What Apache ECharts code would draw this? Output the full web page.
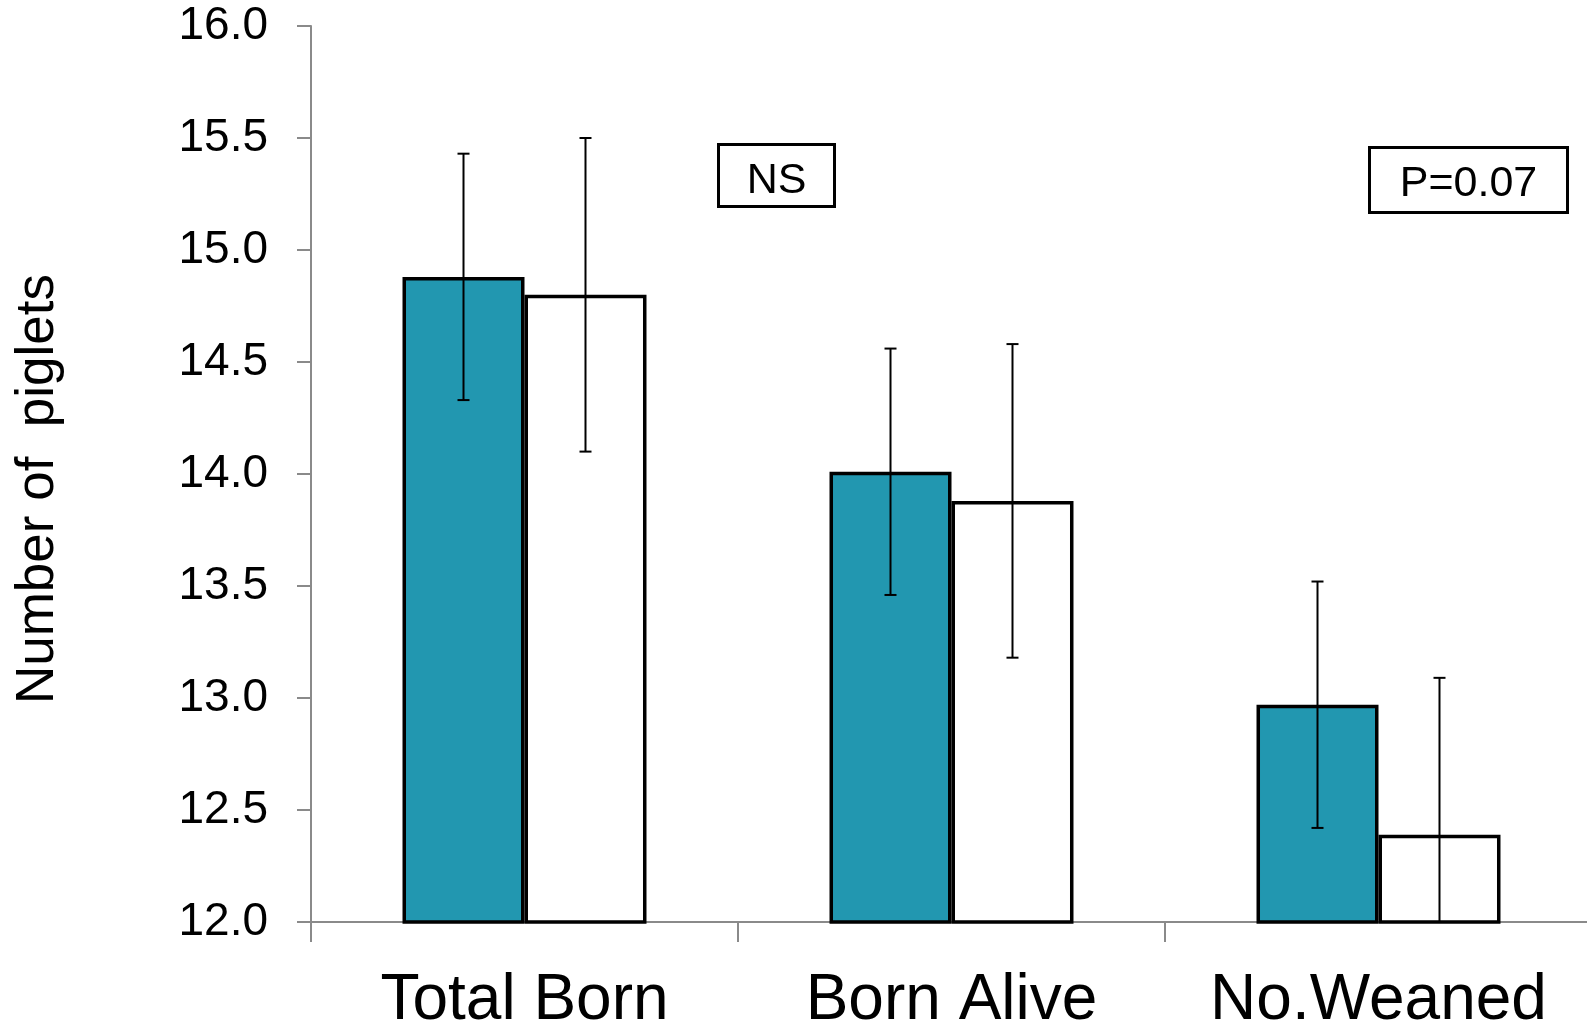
<!DOCTYPE html>
<html>
<head>
<meta charset="utf-8">
<script src="https://cdn.jsdelivr.net/npm/echarts@6/dist/echarts.min.js"></script>
<style>
html,body{margin:0;padding:0;background:#fff;}
#chart{width:1587px;height:1024px;}
</style>
</head>
<body>
<div id="chart"></div>
<script>
// ---- data ----
const categories = ['Total Born', 'Born Alive', 'No.Weaned'];
const groupA = [14.88, 14.01, 12.97];      // teal bars
const groupAErr = [0.55, 0.55, 0.55];
const groupB = [14.80, 13.88, 12.39];      // white bars
const groupBErr = [0.70, 0.70, 0.70];
const yTicks = { min: 12, max: 16, interval: 0.5 };
const yTitle = 'Number of  piglets';
const annotations = ['NS', 'P=0.07'];

const FONT = '"Liberation Sans", Arial, sans-serif';
const BAR_FRAC = 0.2857; // bar width as a fraction of category band

function errSeries(vals, errs, side) {
  return {
    type: 'custom',
    clip: true,
    z: 10,
    data: vals.map((v, i) => [i, v, errs[i]]),
    renderItem: function (params, api) {
      const idx = api.value(0);
      const v = api.value(1);
      const e = api.value(2);
      const band = api.size([1, 0])[0];
      const off = side * band * BAR_FRAC / 2;
      const top = api.coord([idx, v + e]);
      const bot = api.coord([idx, v - e]);
      const x = top[0] + off;
      const cap = 6;
      const style = { stroke: '#000', lineWidth: 2 };
      return {
        type: 'group',
        children: [
          { type: 'line', shape: { x1: x, y1: top[1], x2: x, y2: bot[1] }, style: style },
          { type: 'line', shape: { x1: x - cap, y1: top[1], x2: x + cap, y2: top[1] }, style: style },
          { type: 'line', shape: { x1: x - cap, y1: bot[1], x2: x + cap, y2: bot[1] }, style: style }
        ]
      };
    }
  };
}

const chart = echarts.init(document.getElementById('chart'), null, { renderer: 'canvas' });
chart.setOption({
  animation: false,
  backgroundColor: '#fff',
  grid: { left: 311, top: 26, width: 1281, height: 896, containLabel: false, outerBoundsMode: 'none' },
  xAxis: {
    type: 'category',
    data: categories,
    axisLine: { lineStyle: { color: '#8a8a8a', width: 2 } },
    axisTick: { show: true, interval: 0, length: 20, lineStyle: { color: '#8a8a8a', width: 2 } },
    axisLabel: { interval: 0, color: '#000', fontSize: 64, fontFamily: FONT, margin: 47, lineHeight: 64 },
    splitLine: { show: false }
  },
  yAxis: {
    type: 'value',
    min: yTicks.min,
    max: yTicks.max,
    interval: yTicks.interval,
    name: yTitle,
    nameLocation: 'middle',
    nameRotate: 90,
    nameGap: 246,
    nameTextStyle: { color: '#000', fontSize: 53, fontFamily: FONT, padding: [0, 30, 0, 0] },
    axisLine: { show: true, lineStyle: { color: '#8a8a8a', width: 2 } },
    axisTick: { show: true, length: 14, lineStyle: { color: '#8a8a8a', width: 2 } },
    axisLabel: { color: '#000', fontSize: 46, fontFamily: FONT, margin: 43, formatter: v => v.toFixed(1) },
    splitLine: { show: false }
  },
  series: [
    {
      type: 'bar',
      data: groupA,
      barWidth: (BAR_FRAC * 100) + '%',
      barGap: '0%',
      itemStyle: { color: '#2297B0', borderColor: '#000', borderWidth: 3.5 }
    },
    {
      type: 'bar',
      data: groupB,
      barWidth: (BAR_FRAC * 100) + '%',
      barGap: '0%',
      itemStyle: { color: '#fff', borderColor: '#000', borderWidth: 3.5 }
    },
    errSeries(groupA, groupAErr, -1),
    errSeries(groupB, groupBErr, 1)
  ],
  graphic: [
    {
      type: 'group', left: 717, top: 143,
      children: [
        { type: 'rect', shape: { x: 0, y: 0, width: 116, height: 62 }, style: { fill: '#fff', stroke: '#000', lineWidth: 3 } },
        { type: 'text', x: 58, y: 37, style: { text: annotations[0], font: '43px ' + FONT, fill: '#000', align: 'center', verticalAlign: 'middle' } }
      ]
    },
    {
      type: 'group', left: 1368, top: 146,
      children: [
        { type: 'rect', shape: { x: 0, y: 0, width: 198, height: 65 }, style: { fill: '#fff', stroke: '#000', lineWidth: 3 } },
        { type: 'text', x: 99, y: 37, style: { text: annotations[1], font: '43px ' + FONT, fill: '#000', align: 'center', verticalAlign: 'middle' } }
      ]
    }
  ]
});
</script>
</body>
</html>
